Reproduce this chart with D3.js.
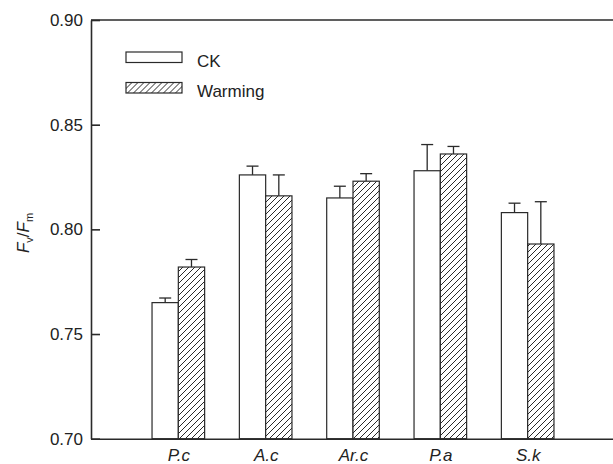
<!DOCTYPE html>
<html>
<head>
<meta charset="utf-8">
<script src="https://cdn.jsdelivr.net/npm/d3@7"></script>
<style>
  body { margin: 0; background: #fff; }
  svg { display: block; font-family: Arial, "Liberation Sans", Helvetica, sans-serif; }
</style>
</head>
<body>
<svg id="chart" width="613" height="464"></svg>
<script>
// values
const categories = ["P.c", "A.c", "Ar.c", "P.a", "S.k"]
const seriesNames = ["CK", "Warming"]
const ckMean = [0.765, 0.826, 0.815, 0.828, 0.808]
const ckErr = [0.0022, 0.0042, 0.0056, 0.0125, 0.0045]
const warmMean = [0.782, 0.816, 0.823, 0.836, 0.793]
const warmErr = [0.0036, 0.0100, 0.0036, 0.0036, 0.0202]
const yTicks = [0.70, 0.75, 0.80, 0.85, 0.90]

const svg = d3.select("#chart")
const plotLeft = 91, plotRight = 615, plotTop = 20, plotBottom = 438.7
const ink = "#2a2a2a"

const x = d3.scalePoint().domain(categories).range([plotLeft, plotRight]).padding(1)
const xSub = d3.scaleBand().domain(seriesNames).range([-26.3, 26.3])
const y = d3.scaleLinear().domain([0.70, 0.90]).range([plotBottom, plotTop])

// hatch pattern for warming bars
const defs = svg.append("defs")
const pat = defs.append("pattern")
    .attr("id", "hatch")
    .attr("patternUnits", "userSpaceOnUse")
    .attr("width", 6)
    .attr("height", 6)
pat.append("rect").attr("width", 6).attr("height", 6).attr("fill", "#fff")
pat.append("path")
    .attr("d", "M0,6 L6,0 M-1,1 L1,-1 M5,7 L7,5")
    .attr("stroke", ink)
    .attr("stroke-width", 1)

const rows = []
categories.forEach((c, i) => {
    rows.push({ cat: c, series: "CK", mean: ckMean[i], err: ckErr[i] })
    rows.push({ cat: c, series: "Warming", mean: warmMean[i], err: warmErr[i] })
})

const fillFor = s => s === "CK" ? "#fff" : "url(#hatch)"
const barMid = d => x(d.cat) + xSub(d.series) + xSub.bandwidth() / 2

// error bars (upper only)
const eb = svg.append("g").attr("stroke", ink).attr("stroke-width", 1.3)
eb.selectAll("line.stem")
    .data(rows)
    .join("line")
    .attr("class", "stem")
    .attr("x1", barMid)
    .attr("x2", barMid)
    .attr("y1", d => y(d.mean))
    .attr("y2", d => y(d.mean + d.err))
eb.selectAll("line.cap")
    .data(rows)
    .join("line")
    .attr("class", "cap")
    .attr("x1", d => barMid(d) - 6)
    .attr("x2", d => barMid(d) + 6)
    .attr("y1", d => y(d.mean + d.err))
    .attr("y2", d => y(d.mean + d.err))

svg.append("g")
    .selectAll("rect")
    .data(rows)
    .join("rect")
    .attr("x", d => x(d.cat) + xSub(d.series))
    .attr("width", xSub.bandwidth())
    .attr("y", d => y(d.mean))
    .attr("height", d => plotBottom - y(d.mean))
    .attr("fill", d => fillFor(d.series))
    .attr("stroke", ink)
    .attr("stroke-width", 1.2)

// axes
const yAxis = svg.append("g")
    .attr("transform", `translate(${plotLeft},0)`)
    .call(d3.axisLeft(y).tickValues(yTicks).tickFormat(d3.format(".2f"))
        .tickSizeInner(-9).tickSizeOuter(0).tickPadding(8))
yAxis.selectAll("path, line").attr("stroke", ink).attr("stroke-width", 1.6)
yAxis.selectAll("text").attr("font-size", 17).attr("fill", "#222")
yAxis.attr("font-family", null).attr("font-size", null)

const xAxis = svg.append("g")
    .attr("transform", `translate(0,${plotBottom})`)
    .call(d3.axisBottom(x).tickSize(0).tickPadding(10))
xAxis.attr("font-family", null).attr("font-size", null)
xAxis.select(".domain").attr("stroke", ink).attr("stroke-width", 1.6)
xAxis.selectAll("text")
    .attr("font-size", 17)
    .attr("font-style", "italic")
    .attr("fill", "#222")

// top frame line
svg.append("line")
    .attr("x1", plotLeft).attr("x2", plotRight)
    .attr("y1", plotTop).attr("y2", plotTop)
    .attr("stroke", ink).attr("stroke-width", 1.6)

// y label F_v/F_m
const ylab = svg.append("text")
    .attr("transform", "translate(29,233) rotate(-90)")
    .attr("text-anchor", "middle")
    .attr("font-size", 17)
    .attr("fill", "#222")
ylab.append("tspan").attr("font-style", "italic").text("F")
ylab.append("tspan").attr("font-size", 11).attr("dy", 4).text("v")
ylab.append("tspan").attr("dy", -4).text("/")
ylab.append("tspan").attr("font-style", "italic").text("F")
ylab.append("tspan").attr("font-size", 11).attr("dy", 4).text("m")

// legend
const legend = svg.append("g")
    .selectAll("g")
    .data(seriesNames)
    .join("g")
    .attr("transform", (d, i) => `translate(126,${52 + i * 30.5})`)
legend.append("rect")
    .attr("width", 56)
    .attr("height", 10.5)
    .attr("fill", d => fillFor(d))
    .attr("stroke", ink)
    .attr("stroke-width", 1.2)
legend.append("text")
    .attr("x", 71)
    .attr("y", 14.5)
    .attr("font-size", 17)
    .attr("fill", "#222")
    .text(d => d)
</script>
</body>
</html>
